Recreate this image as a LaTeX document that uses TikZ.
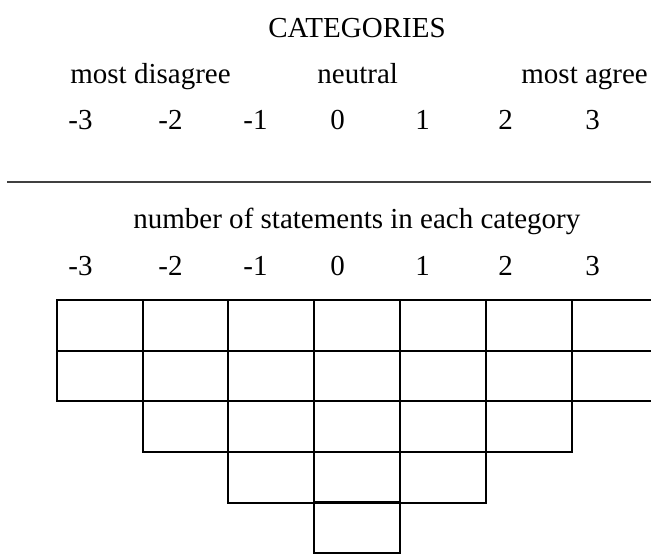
\documentclass[tikz,border=0pt]{standalone}
\usepackage{fontspec}
\setmainfont{Liberation Serif}
\definecolor{Rule}{HTML}{404040}

\begin{document}
\begin{tikzpicture}[x=0.5pt, y=-0.5pt, font=\fontsize{14.5}{17}\selectfont,
  txt/.style={anchor=base west, inner sep=0pt},
  cell/.style={draw, line width=1pt, minimum width=42.9pt, minimum height=25.3pt, inner sep=0pt, outer sep=0pt}]
\useasboundingbox (0,0) rectangle (651,554);
\clip (0,0) rectangle (651,554);
\node[txt, anchor=base] (title) at (357,37) {CATEGORIES};
\node[txt] (disagree) at (70,83) {most disagree};
\node[txt] (neutral) at (317,83) {neutral};
\node[txt] (agree) at (521,83) {most agree};
\foreach \i/\x in {-3/68,-2/158,-1/243,0/330,1/415,2/498,3/585} {
  \node[txt] (ca\i) at (\x,129) {\i};
  \node[txt] (cb\i) at (\x,275) {\i};
}
\draw[Rule, line width=0.9pt] (7,182) -- (651,182);
\node[txt] (count) at (133,228) {number of statements in each category};
\foreach \c in {-3,...,3} {
  \node[cell] (ra\c) at ({357+85.8*\c},325.3) {};
  \node[cell] (rb\c) at ({357+85.8*\c},376) {};
}
\foreach \c in {-2,...,2} \node[cell] (rc\c) at ({357+85.8*\c},426.6) {};
\foreach \c in {-1,...,1} \node[cell] (rd\c) at ({357+85.8*\c},477.3) {};
\node[cell] (re0) at (357,527.7) {};
\end{tikzpicture}
\end{document}
